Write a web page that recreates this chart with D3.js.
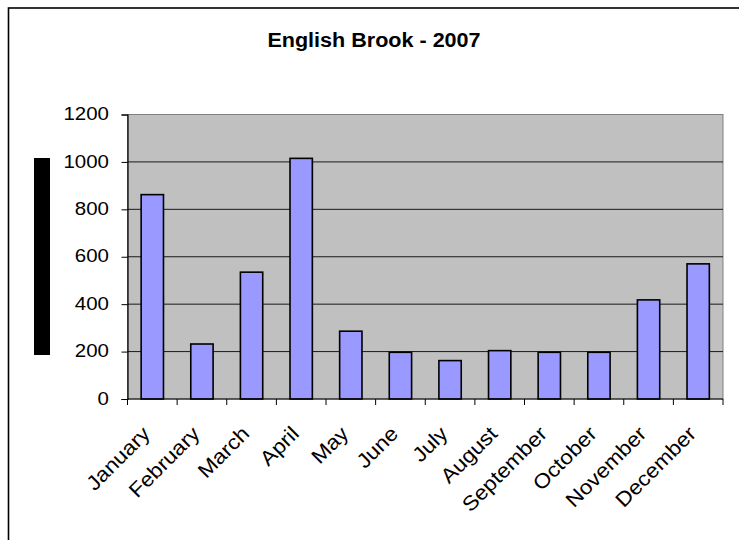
<!DOCTYPE html>
<html>
<head>
<meta charset="utf-8">
<script src="https://cdn.jsdelivr.net/npm/d3@7"></script>
<style>
  html, body { margin: 0; padding: 0; background: #fff; }
  svg { display: block; }
  text { font-family: "Liberation Sans", Arial, sans-serif; fill: #000; }
</style>
</head>
<body>
<svg id="chart" width="739" height="540"></svg>
<script>
const title = "English Brook - 2007";
const months = ["January","February","March","April","May","June","July","August","September","October","November","December"];
const values = [862, 232, 535, 1015, 286, 197, 162, 204, 197, 197, 418, 570];
const yTicks = [0, 200, 400, 600, 800, 1000, 1200];

const W = 739, H = 540;
const plot = { left: 127.5, right: 723, top: 114.5, bottom: 399 };
const stretch = 1.1; // horizontal text stretch as in the original rendering

const svg = d3.select("#chart");

// outer chart border
svg.append("rect")
  .attr("x", 8.5).attr("y", 8).attr("width", W + 10).attr("height", H + 10)
  .attr("fill", "#fff").attr("stroke", "#000").attr("stroke-width", 1.6);

// title
svg.append("text")
  .attr("transform", `translate(374,47.3) scale(${stretch},1)`)
  .attr("text-anchor", "middle")
  .attr("font-size", 19.6).attr("font-weight", "bold")
  .text(title);

const x = d3.scaleBand().domain(months)
  .range([plot.left, plot.right])
  .paddingInner(0.55).paddingOuter(0.275);
const y = d3.scaleLinear().domain([0, 1200]).range([plot.bottom, plot.top]);

// plot area
svg.append("rect")
  .attr("x", plot.left).attr("y", plot.top)
  .attr("width", plot.right - plot.left).attr("height", plot.bottom - plot.top)
  .attr("fill", "#C0C0C0").attr("stroke", "#808080").attr("stroke-width", 1);

// gridlines
svg.append("g").selectAll("line")
  .data(yTicks.filter(d => d > 0))
  .join("line")
  .attr("x1", plot.left).attr("x2", plot.right)
  .attr("y1", d => y(d)).attr("y2", d => y(d))
  .attr("stroke", d => d === 1200 ? "#808080" : "#1a1a1a").attr("stroke-width", 1);

// bars
svg.append("g").selectAll("rect")
  .data(values)
  .join("rect")
  .attr("x", (d, i) => x(months[i]))
  .attr("y", d => y(d))
  .attr("width", x.bandwidth())
  .attr("height", d => y(0) - y(d))
  .attr("fill", "#9999FF")
  .attr("stroke", "#000").attr("stroke-width", 1.6);

// y axis (line + ticks)
const yAxis = d3.axisLeft(y).tickValues(yTicks).tickSize(6).tickFormat("");
const gy = svg.append("g").attr("transform", `translate(${plot.left},0)`).call(yAxis);
gy.select(".domain").attr("stroke", "#000").attr("stroke-width", 1.2);
gy.selectAll(".tick line").attr("stroke", "#000");

// y tick labels (stretched)
svg.append("g").selectAll("text")
  .data(yTicks)
  .join("text")
  .attr("transform", d => `translate(109,${y(d) + 5.6}) scale(${stretch},1)`)
  .attr("text-anchor", "end")
  .attr("font-size", 18.6)
  .text(d => d3.format("d")(d));

// x axis baseline
svg.append("line")
  .attr("x1", plot.left).attr("x2", plot.right)
  .attr("y1", plot.bottom).attr("y2", plot.bottom)
  .attr("stroke", "#000").attr("stroke-width", 1.2);

// x ticks at category boundaries
const step = x.step();
const bounds = d3.range(months.length + 1).map(i => plot.left + i * step);
svg.append("g").selectAll("line")
  .data(bounds)
  .join("line")
  .attr("x1", d => d).attr("x2", d => d)
  .attr("y1", plot.bottom).attr("y2", plot.bottom + 6)
  .attr("stroke", "#000").attr("stroke-width", 1);

// x labels rotated
svg.append("g").selectAll("text")
  .data(months)
  .join("text")
  .attr("transform", d => `translate(${x(d) + x.bandwidth() / 2 - 1},435) rotate(-45) scale(${stretch},1)`)
  .attr("text-anchor", "end")
  .attr("font-size", 20.5)
  .text(d => d);

// black vertical bar left of axis
svg.append("rect")
  .attr("x", 34).attr("y", 158).attr("width", 16).attr("height", 197)
  .attr("fill", "#000");
</script>
</body>
</html>
